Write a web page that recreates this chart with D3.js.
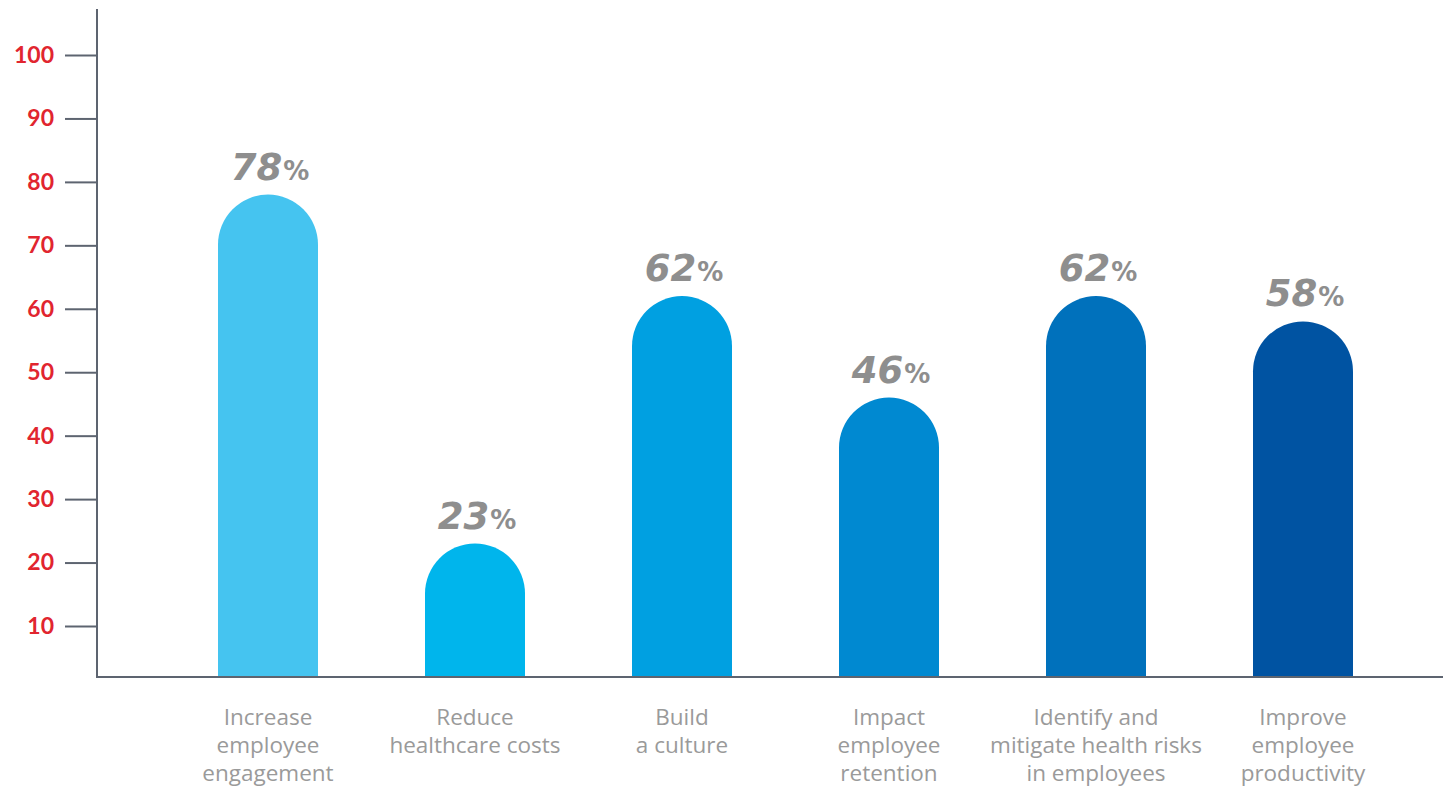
<!DOCTYPE html>
<html>
<head>
<meta charset="utf-8">
<script src="https://cdn.jsdelivr.net/npm/d3@7"></script>
<style>
  html, body { margin: 0; padding: 0; background: #ffffff; }
  svg { display: block; }
</style>
</head>
<body>
<svg id="chart" width="1450" height="787"></svg>
<script>
// Categories (each line of a label is its own entry)
const categories = [
  ["Increase", "employee", "engagement"],
  ["Reduce", "healthcare costs"],
  ["Build", "a culture"],
  ["Impact", "employee", "retention"],
  ["Identify and", "mitigate health risks", "in employees"],
  ["Improve", "employee", "productivity"]
];
const values = [78, 23, 62, 46, 62, 58];
const barColors = ["#45c4f0", "#00b5ec", "#00a0e1", "#0089d1", "#0071bc", "#0053a2"];
const yTicks = [10, 20, 30, 40, 50, 60, 70, 80, 90, 100];

const svg = d3.select("#chart");

const axisX = 97;
const baseY = 677;
const axisRight = 1443;
const barWidth = 100;

const keys = categories.map((c, i) => i);
const x = d3.scalePoint().domain(keys).range([268, 1303]);
const y = d3.scaleLinear().domain([10, 100]).range([626, 55]);

// Y axis
const yAxis = d3.axisLeft(y)
  .tickValues(yTicks)
  .tickSize(32)
  .tickPadding(11)
  .tickFormat(d3.format("d"));

const gy = svg.append("g")
  .attr("transform", `translate(${axisX},0)`)
  .call(yAxis);
gy.select(".domain").remove();
gy.selectAll(".tick line").attr("stroke", "#5d6470").attr("stroke-width", 2);
gy.selectAll(".tick text")
  .attr("fill", "#e1252f")
  .attr("font-family", "Lato, 'Open Sans', sans-serif")
  .attr("font-weight", 700)
  .attr("font-size", 23);

// Axis lines
svg.append("line")
  .attr("x1", axisX).attr("x2", axisX)
  .attr("y1", 9).attr("y2", baseY)
  .attr("stroke", "#5d6470").attr("stroke-width", 2);
svg.append("line")
  .attr("x1", axisX - 1).attr("x2", axisRight)
  .attr("y1", baseY).attr("y2", baseY)
  .attr("stroke", "#5d6470").attr("stroke-width", 2);

// Bars with a rounded top cap
function barPath(cx, top, bottom, w) {
  const r = w / 2;
  const x0 = cx - r, x1 = cx + r;
  return `M${x0},${bottom} L${x0},${top + r} A${r},${r} 0 0 1 ${x1},${top + r} L${x1},${bottom} Z`;
}

svg.append("g").selectAll("path")
  .data(values)
  .join("path")
  .attr("d", (d, i) => barPath(x(i), y(d), baseY - 1, barWidth))
  .attr("fill", (d, i) => barColors[i]);

// Value labels
const vl = svg.append("g").selectAll("text")
  .data(values)
  .join("text")
  .attr("x", (d, i) => x(i) + 2)
  .attr("y", d => y(d) - 15)
  .attr("text-anchor", "middle")
  .attr("fill", "#8e8e8e")
  .attr("font-family", "'DejaVu Sans', sans-serif")
  .attr("font-weight", 700);
vl.append("tspan").attr("font-size", 37).attr("font-style", "italic").text(d => d);
vl.append("tspan").attr("font-size", 26).attr("dx", 1).text("%");

// Category labels
const cl = svg.append("g").selectAll("text")
  .data(categories)
  .join("text")
  .attr("x", (d, i) => x(i))
  .attr("y", 725)
  .attr("text-anchor", "middle")
  .attr("fill", "#9a9a9a")
  .attr("font-family", "'Open Sans', sans-serif")
  .attr("font-size", 22.5);
cl.selectAll("tspan")
  .data(d => d)
  .join("tspan")
  .attr("x", function() { return d3.select(this.parentNode).attr("x"); })
  .attr("dy", (d, j) => j === 0 ? 0 : 28)
  .text(d => d);
</script>
</body>
</html>
